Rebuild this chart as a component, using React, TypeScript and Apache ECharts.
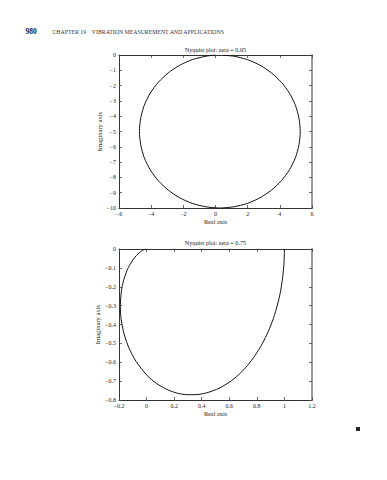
import React, { useEffect, useRef } from "react";
import * as echarts from "echarts";

// ---- data ----
const pageNumber = "980";
const chapterText = "CHAPTER 19    VIBRATION MEASUREMENT AND APPLICATIONS";

const topTitle = "Nyquist plot: zeta = 0.05";
const bottomTitle = "Nyquist plot: zeta = 0.75";
const xName = "Real axis";
const yName = "Imaginary axis";

// zeta = 0.05 (near-circular locus)
const topReal = [0.5, 1.14, 1.98, 2.77, 3.48, 4.10, 4.60, 4.97, 5.19, 5.27, 5.19, 4.97, 4.60, 4.10, 3.48, 2.77, 1.98, 1.14, 0.27, -0.60, -1.44, -2.23, -2.94, -3.56, -4.06, -4.43, -4.65, -4.73, -4.65, -4.43, -4.06, -3.56, -2.94, -2.23, -1.44, -0.60, 0.0];
const topImag = [-0.02, -0.08, -0.30, -0.67, -1.17, -1.79, -2.50, -3.29, -4.13, -5.0, -5.87, -6.71, -7.50, -8.21, -8.83, -9.33, -9.70, -9.92, -10.0, -9.92, -9.70, -9.33, -8.83, -8.21, -7.50, -6.71, -5.87, -5.0, -4.13, -3.29, -2.50, -1.79, -1.17, -0.67, -0.30, -0.08, 0.0];

// zeta = 0.75
const bottomReal = [1.0, 0.997, 0.987, 0.972, 0.949, 0.920, 0.883, 0.839, 0.788, 0.731, 0.667, 0.598, 0.525, 0.450, 0.374, 0.300, 0.229, 0.163, 0.102, 0.048, 0.0, -0.076, -0.128, -0.161, -0.180, -0.189, -0.190, -0.182, -0.167, -0.142, -0.119, -0.095, -0.073, -0.053, -0.038, -0.020, -0.007, 0.0];
const bottomImag = [0.0, -0.075, -0.150, -0.224, -0.297, -0.368, -0.437, -0.502, -0.563, -0.618, -0.667, -0.707, -0.738, -0.759, -0.771, -0.772, -0.765, -0.749, -0.726, -0.699, -0.667, -0.596, -0.524, -0.456, -0.394, -0.340, -0.293, -0.219, -0.167, -0.114, -0.081, -0.053, -0.034, -0.020, -0.012, -0.004, -0.001, 0.0];

const topXRange = { min: -6, max: 6, interval: 2 };
const topYRange = { min: -10, max: 0, interval: 1 };
const bottomXRange = { min: -0.2, max: 1.2, interval: 0.2 };
const bottomYRange = { min: -0.8, max: 0, interval: 0.1 };

const FONT = "Liberation Serif";

function fmt(v: number): string {
  const r = Math.round(v * 1000) / 1000;
  return String(r).replace("-", "\u2212");
}

export default function App() {
  const ref = useRef<HTMLDivElement>(null);

  useEffect(() => {
    if (!ref.current) return;
    const chart = echarts.init(ref.current, undefined, { renderer: "svg" });

    const grids = [
      { left: 119, top: 55, width: 193, height: 153 },
      { left: 119, top: 249, width: 193, height: 151 },
    ];

    const axisLine = { show: true, onZero: false, lineStyle: { color: "#333", width: 1 } };
    const tick = { show: true, inside: true, length: 3, lineStyle: { color: "#444", width: 0.8 } };
    const label = { fontSize: 6, color: "#222", fontFamily: FONT, margin: 3, formatter: fmt };

    const mkX = (gi: number, r: any, main: boolean) => ({
      type: "value",
      gridIndex: gi,
      position: main ? "bottom" : "top",
      min: r.min,
      max: r.max,
      interval: r.interval,
      axisLine: axisLine,
      axisTick: tick,
      axisLabel: main ? label : { show: false },
      splitLine: { show: false },
      name: main ? xName : "",
      nameLocation: "middle",
      nameGap: 10,
      nameTextStyle: { fontSize: 6.3, color: "#222", fontFamily: FONT, verticalAlign: "top" },
    });
    const mkY = (gi: number, r: any, main: boolean) => ({
      type: "value",
      gridIndex: gi,
      position: main ? "left" : "right",
      min: r.min,
      max: r.max,
      interval: r.interval,
      axisLine: main ? axisLine : { show: true, onZero: false, lineStyle: { color: "#999", width: 2 } },
      axisTick: tick,
      axisLabel: main ? label : { show: false },
      splitLine: { show: false },
      name: main ? yName : "",
      nameLocation: "middle",
      nameGap: 15,
      nameTextStyle: { fontSize: 6.6, color: "#222", fontFamily: FONT },
    });

    const titleText = (text: string, y: number) => ({
      type: "text",
      x: 215.5,
      y,
      style: {
        text,
        fill: "#222",
        font: `6.2px "${FONT}"`,
        textAlign: "center",
        textVerticalAlign: "middle",
        align: "center",
        verticalAlign: "middle",
      },
    });

    chart.setOption({
      animation: false,
      backgroundColor: "#fff",
      grid: grids,
      xAxis: [mkX(0, topXRange, true), mkX(0, topXRange, false), mkX(1, bottomXRange, true), mkX(1, bottomXRange, false)],
      yAxis: [mkY(0, topYRange, true), mkY(0, topYRange, false), mkY(1, bottomYRange, true), mkY(1, bottomYRange, false)],
      series: [
        {
          type: "line",
          xAxisIndex: 0,
          yAxisIndex: 0,
          data: topReal.map((x, i) => [x, topImag[i]]),
          smooth: 0.25,
          showSymbol: false,
          lineStyle: { color: "#111", width: 1 },
        },
        {
          type: "line",
          xAxisIndex: 2,
          yAxisIndex: 2,
          data: bottomReal.map((x, i) => [x, bottomImag[i]]),
          smooth: 0.25,
          showSymbol: false,
          lineStyle: { color: "#111", width: 1 },
        },
      ],
      graphic: [
        {
          type: "text",
          x: 25.5,
          y: 31,
          style: { text: pageNumber, fill: "#222", font: `bold 7.5px "${FONT}"`, textVerticalAlign: "middle", verticalAlign: "middle" },
        },
        {
          type: "text",
          x: 52.5,
          y: 31.5,
          style: { text: chapterText, fill: "#333", font: `5.8px "${FONT}"`, textVerticalAlign: "middle", verticalAlign: "middle" },
        },
        titleText(topTitle, 49),
        titleText(bottomTitle, 242),
        { type: "rect", shape: { x: 356, y: 427, width: 4, height: 4 }, style: { fill: "#222" } },
      ],
    });

    return () => chart.dispose();
  }, []);

  return <div ref={ref} style={{ position: "absolute", left: 0, top: 0, width: 387, height: 480 }} />;
}
